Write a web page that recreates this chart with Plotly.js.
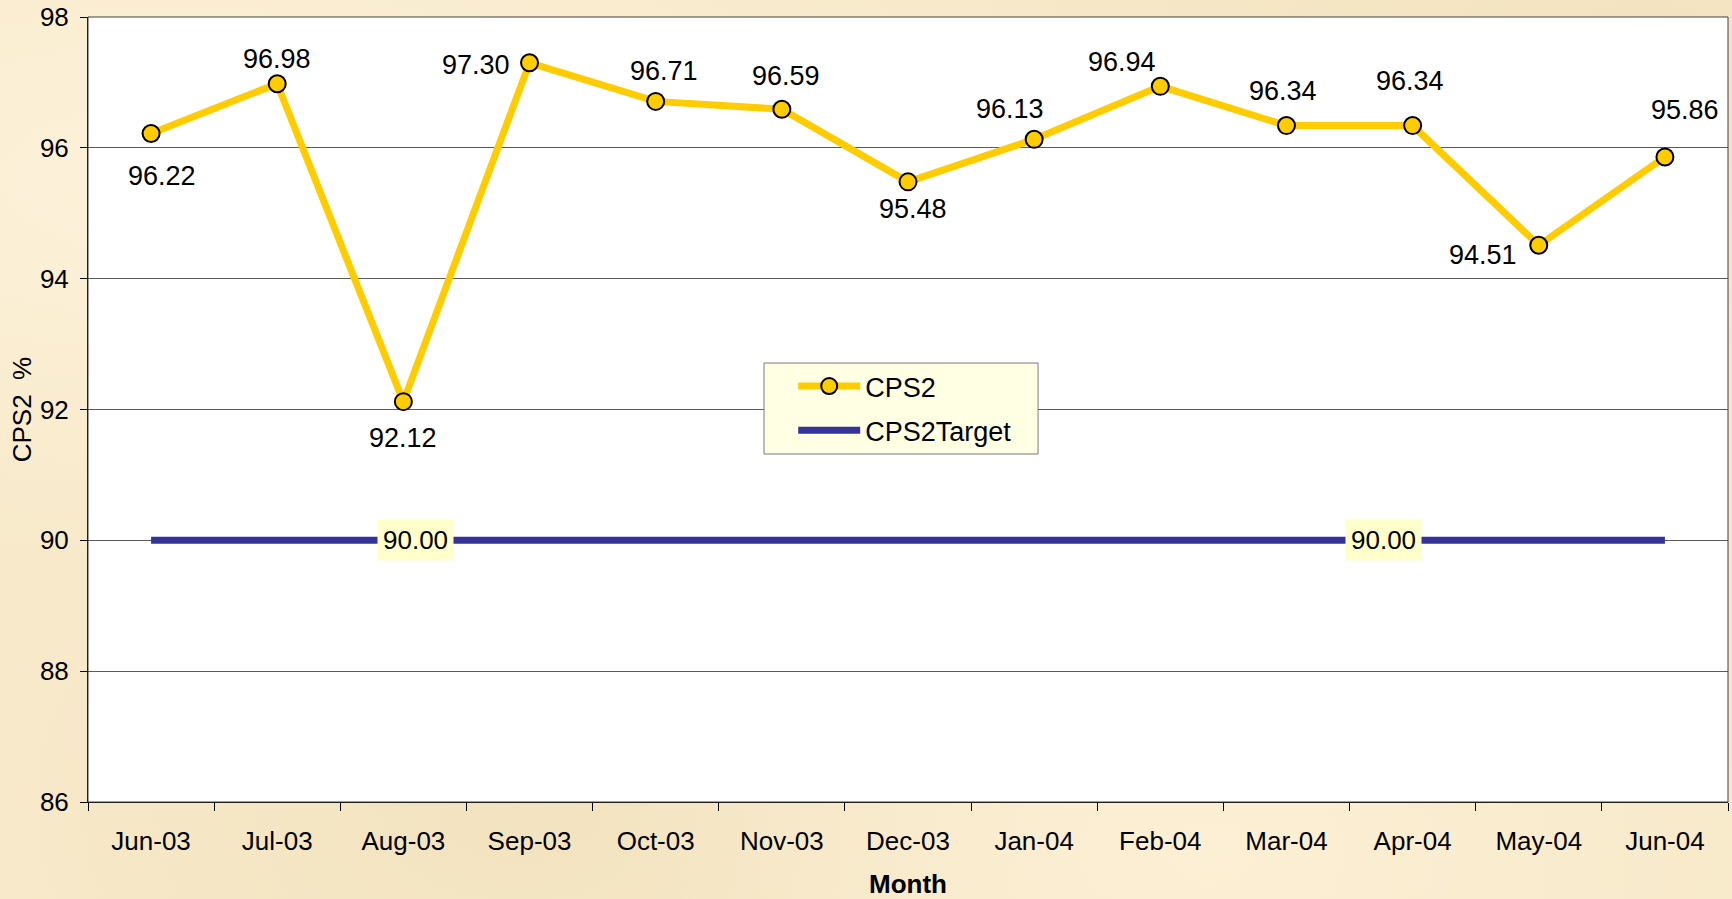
<!DOCTYPE html>
<html>
<head>
<meta charset="utf-8">
<script src="https://cdn.plot.ly/plotly-3.0.1.min.js"></script>
<style>
  html, body { margin: 0; padding: 0; }
  body {
    width: 1732px; height: 899px; overflow: hidden;
    background-color: #F7E9C9;
    background-image:
      radial-gradient(ellipse at 10% 20%, rgba(255,245,225,0.7), rgba(255,245,225,0) 40%),
      radial-gradient(ellipse at 70% 95%, rgba(255,243,220,0.6), rgba(255,243,220,0) 35%),
      radial-gradient(ellipse at 95% 5%, rgba(240,222,185,0.6), rgba(240,222,185,0) 30%),
      radial-gradient(ellipse at 30% 90%, rgba(238,220,182,0.5), rgba(238,220,182,0) 30%);
  }
  #chart { width: 1732px; height: 899px; }
</style>
</head>
<body>
<div id="chart"></div>
<script>
// ---- data ----
const months = ["Jun-03","Jul-03","Aug-03","Sep-03","Oct-03","Nov-03","Dec-03","Jan-04","Feb-04","Mar-04","Apr-04","May-04","Jun-04"];
const cps2 = [96.22, 96.98, 92.12, 97.30, 96.71, 96.59, 95.48, 96.13, 96.94, 96.34, 96.34, 94.51, 95.86];
const cps2Target = [90, 90, 90, 90, 90, 90, 90, 90, 90, 90, 90, 90, 90];
const targetLabelMonths = ["Aug-03", "Apr-04"];

// ---- label placement (style only, pixel offsets) ----
const labelDX = [11, 0, 0, -54, 8, 4, 5, -24, -38, -3, -3, -56, 20];
const labelDY = [43, -25, 36, 2, -30, -33, 27, -30, -24, -35, -45, 10, -47];
const targetLabelDX = [12, -29];

const FONT = "Liberation Sans, Arial, sans-serif";

const annotations = months.map((m, i) => ({
  x: m, y: cps2[i], xref: "x", yref: "y",
  text: cps2[i].toFixed(2), showarrow: false,
  xshift: labelDX[i], yshift: -labelDY[i],
  font: {family: FONT, size: 27, color: "#000"}
}));
targetLabelMonths.forEach((m, k) => {
  const idx = months.indexOf(m);
  annotations.push({
    x: m, y: cps2Target[idx], xref: "x", yref: "y",
    text: cps2Target[idx].toFixed(2), showarrow: false,
    xshift: targetLabelDX[k], yshift: 0,
    bgcolor: "#FFFFCC", borderpad: 5,
    font: {family: FONT, size: 26, color: "#000"}
  });
});

const traces = [
  {
    x: months, y: cps2, name: "CPS2", type: "scatter", mode: "lines+markers",
    legendgroup: "g1",
    line: {color: "#FFCC00", width: 7},
    marker: {symbol: "circle", size: 17, color: "#FFCC00", line: {color: "#000", width: 2}}
  },
  {
    x: months, y: cps2Target, name: "CPS2Target", type: "scatter", mode: "lines",
    legendgroup: "g2",
    line: {color: "#333399", width: 7}
  }
];

const layout = {
  width: 1732, height: 899,
  margin: {l: 88, r: 4, t: 17, b: 97},
  paper_bgcolor: "rgba(0,0,0,0)",
  plot_bgcolor: "#FFFFFF",
  font: {family: FONT, size: 26, color: "#000"},
  showlegend: true,
  legend: {
    x: 0.43, y: 0.5605, xanchor: "left", yanchor: "top",
    bgcolor: "rgba(0,0,0,0)", borderwidth: 0,
    font: {family: FONT, size: 27, color: "#000"},
    itemwidth: 62, tracegroupgap: 6
  },
  xaxis: {
    type: "category", range: [-0.5, 12.5],
    tickson: "boundaries", ticks: "outside", ticklen: 8, tickcolor: "#000", tickwidth: 1,
    showline: true, linecolor: "#000", linewidth: 1,
    showgrid: false, zeroline: false,
    tickfont: {family: FONT, size: 26},
    ticklabelstandoff: 16,
    title: {text: "<b>Month</b>", font: {family: FONT, size: 26}, standoff: 20}
  },
  yaxis: {
    range: [86, 98], dtick: 2, tick0: 86,
    ticks: "outside", ticklen: 7, tickcolor: "#000", tickwidth: 1,
    showline: true, linecolor: "#000", linewidth: 1,
    showgrid: true, gridcolor: "#5a5a5a", gridwidth: 1,
    zeroline: false,
    tickfont: {family: FONT, size: 26},
    ticklabelstandoff: 6,
    title: {text: "CPS2  %", font: {family: FONT, size: 26}, standoff: 0}
  },
  shapes: [
    {
      type: "rect", xref: "paper", yref: "paper", x0: 0, x1: 1, y0: 0, y1: 1,
      line: {color: "#404040", width: 1}, fillcolor: "rgba(0,0,0,0)", layer: "above"
    },
    {
      type: "rect", xref: "paper", yref: "paper", x0: 0.4122, x1: 0.5793, y0: 0.4433, y1: 0.5592,
      line: {color: "#7a7a7a", width: 1}, fillcolor: "#FFFFE4", layer: "above"
    }
  ],
  annotations: annotations
};

Plotly.newPlot("chart", traces, layout, {displayModeBar: false, staticPlot: true});
</script>
</body>
</html>
